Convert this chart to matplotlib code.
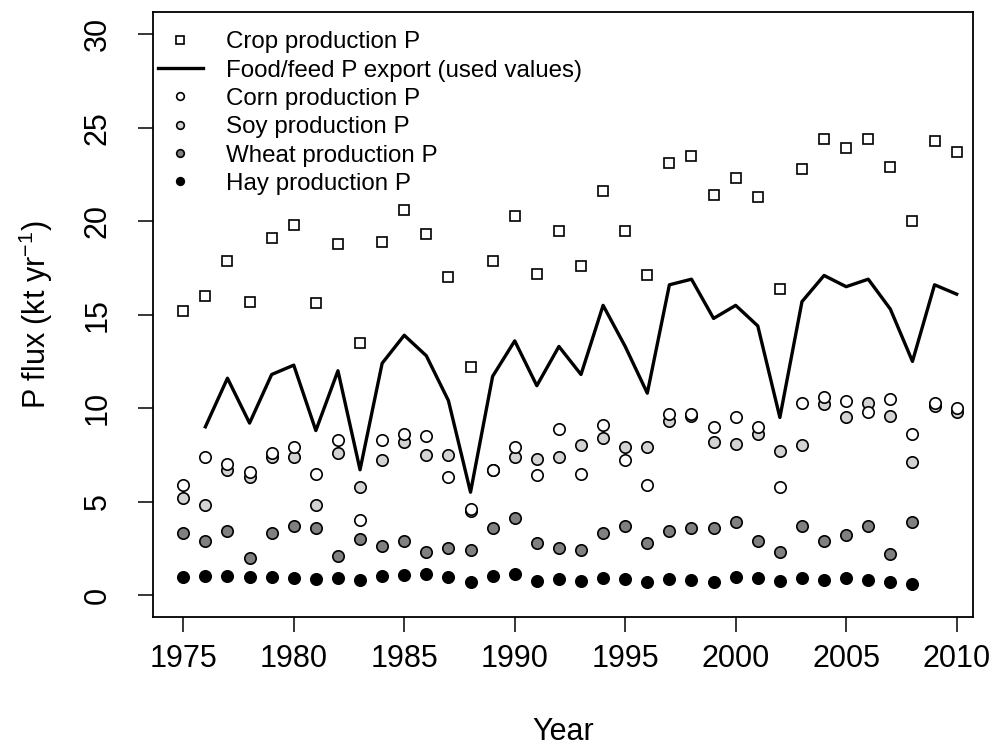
import numpy as np
import matplotlib
matplotlib.use("Agg")
import matplotlib.pyplot as plt

plt.rcParams['font.family'] = ['Liberation Sans', 'DejaVu Sans']
plt.rcParams['mathtext.fontset'] = 'custom'
plt.rcParams['mathtext.rm'] = 'Liberation Sans'
plt.rcParams['mathtext.it'] = 'Liberation Sans:italic'

# values (kt P per year)
years = np.arange(1975, 2011)

crop = [15.2, 16.0, 17.9, 15.7, 19.1, 19.8, 15.6, 18.8, 13.5, 18.9,
        20.6, 19.3, 17.0, 12.2, 17.9, 20.3, 17.2, 19.5, 17.6, 21.6,
        19.5, 17.1, 23.1, 23.5, 21.4, 22.3, 21.3, 16.4, 22.8, 24.4,
        23.9, 24.4, 22.9, 20.0, 24.3, 23.7]

# export series starts in 1976
export_years = np.arange(1976, 2011)
export = [9.0, 11.6, 9.2, 11.8, 12.3, 8.8, 12.0, 6.7, 12.4, 13.9,
          12.8, 10.4, 5.5, 11.7, 13.6, 11.2, 13.3, 11.8, 15.5, 13.3,
          10.8, 16.6, 16.9, 14.8, 15.5, 14.4, 9.5, 15.7, 17.1, 16.5,
          16.9, 15.3, 12.5, 16.6, 16.1]

corn = [5.9, 7.4, 7.0, 6.6, 7.6, 7.9, 6.5, 8.3, 4.0, 8.3,
        8.6, 8.5, 6.3, 4.6, 6.7, 7.9, 6.4, 8.9, 6.5, 9.1,
        7.2, 5.9, 9.7, 9.7, 9.0, 9.5, 9.0, 5.8, 10.3, 10.6,
        10.4, 9.8, 10.5, 8.6, 10.3, 10.0]

soy = [5.2, 4.8, 6.7, 6.3, 7.4, 7.4, 4.8, 7.6, 5.8, 7.2,
       8.2, 7.5, 7.5, 4.5, 6.7, 7.4, 7.3, 7.4, 8.0, 8.4,
       7.9, 7.9, 9.3, 9.6, 8.2, 8.1, 8.6, 7.7, 8.0, 10.2,
       9.5, 10.3, 9.6, 7.1, 10.1, 9.8]

hw_years = np.arange(1975, 2009)
wheat = [3.3, 2.9, 3.4, 2.0, 3.3, 3.7, 3.6, 2.1, 3.0, 2.6,
         2.9, 2.3, 2.5, 2.4, 3.6, 4.1, 2.8, 2.5, 2.4, 3.3,
         3.7, 2.8, 3.4, 3.6, 3.6, 3.9, 2.9, 2.3, 3.7, 2.9,
         3.2, 3.7, 2.2, 3.9]

hay = [0.98, 1.0, 1.0, 0.98, 0.98, 0.93, 0.84, 0.89, 0.8, 1.04,
       1.07, 1.1, 0.98, 0.71, 1.04, 1.1, 0.75, 0.86, 0.77, 0.93,
       0.86, 0.68, 0.84, 0.8, 0.68, 0.95, 0.89, 0.75, 0.93, 0.8,
       0.93, 0.8, 0.68, 0.59]

labels = ["Crop production P", "Food/feed P export (used values)",
          "Corn production P", "Soy production P",
          "Wheat production P", "Hay production P"]

fig = plt.figure(figsize=(9.97, 7.49), dpi=100)
ax = fig.add_axes([153 / 997, 1 - 617.4 / 749, 820 / 997, 605.4 / 749])

ms = 8.2
mew = 1.2
ax.plot(years, crop, ls='none', marker='s', ms=7.6, mfc='white', mec='black',
        mew=mew, label=labels[0])
ax.plot(export_years, export, color='black', lw=2.4, label=labels[1])
ax.plot(years, soy, ls='none', marker='o', ms=ms, mfc='#d3d3d3', mec='black',
        mew=mew, label=labels[3], zorder=2)
ax.plot(years, corn, ls='none', marker='o', ms=ms, mfc='white', mec='black',
        mew=mew, label=labels[2], zorder=2.1)
ax.plot(hw_years, wheat, ls='none', marker='o', ms=ms, mfc='#808080', mec='black',
        mew=mew, label=labels[4])
ax.plot(hw_years, hay, ls='none', marker='o', ms=ms, mfc='black', mec='black',
        mew=mew, label=labels[5])

ax.set_xlim(1973.63, 2010.74)
ax.set_ylim(-1.2, 31.2)
ax.set_xticks(np.arange(1975, 2011, 5))
ax.set_yticks(np.arange(0, 31, 5))
ax.tick_params(direction='out', length=11, width=1.1, labelsize=22)
ax.tick_params(axis='x', pad=8)
ax.tick_params(axis='y', pad=18)
for t in ax.get_yticklabels():
    t.set_rotation(90)
    t.set_va('center')
for s in ax.spines.values():
    s.set_linewidth(1.3)

ax.set_xlabel("Year", fontsize=22, labelpad=31)
ax.set_ylabel("P flux (kt yr$^{-1}$)", fontsize=22, labelpad=20)

h, l = ax.get_legend_handles_labels()
hd = dict(zip(l, h))
ax.legend([hd[x] for x in labels], labels, loc='upper left',
          bbox_to_anchor=(0.006, 0.968), frameon=False, fontsize=17.4,
          borderpad=0, borderaxespad=0, handlelength=1.86, handletextpad=0.95,
          labelspacing=0.26, markerscale=0.67)

fig.savefig("out.png", dpi=100)
